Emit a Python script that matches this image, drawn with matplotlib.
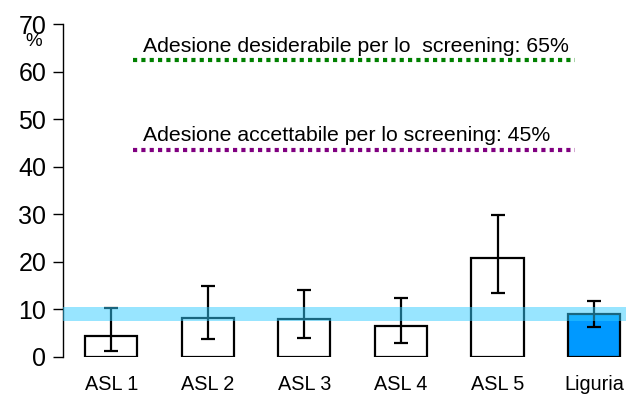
import matplotlib.pyplot as plt

plt.rcParams['font.family'] = ['Liberation Sans', 'DejaVu Sans']

# dati
categorie = ['ASL 1', 'ASL 2', 'ASL 3', 'ASL 4', 'ASL 5', 'Liguria']
valori = [4.5, 8.1, 7.9, 6.6, 20.9, 9.0]
ic_inf = [1.3, 3.7, 3.9, 2.9, 13.4, 6.4]
ic_sup = [10.4, 14.9, 14.1, 12.5, 29.8, 11.8]
banda = [7.6, 10.6]
soglia_desiderabile = 62.4
soglia_accettabile = 43.6
testo_desiderabile = 'Adesione desiderabile per lo  screening: 65%'
testo_accettabile = 'Adesione accettabile per lo screening: 45%'
colori = ['white'] * 5 + ['#0099FF']

fig = plt.figure(figsize=(6.26, 4.03), dpi=100)
ax = fig.add_axes([63 / 626, 46 / 403, (626 - 63) / 626, 333 / 403])

x = list(range(len(categorie)))
err = [[v - lo for v, lo in zip(valori, ic_inf)],
       [hi - v for v, hi in zip(valori, ic_sup)]]
ax.bar(x, valori, width=0.54, color=colori, edgecolor='black', linewidth=1.6, zorder=2)
ax.errorbar(x, valori, yerr=err, fmt='none', ecolor='black', elinewidth=1.6,
            capsize=5, capthick=1.6, zorder=3)

ax.axhspan(banda[0], banda[1], color='#33CCFF', alpha=0.5, lw=0, zorder=4)

ax.plot([0.22, 4.8], [soglia_desiderabile] * 2, color='#008000', lw=3,
        linestyle=(0, (1, 1)), zorder=2)
ax.plot([0.22, 4.8], [soglia_accettabile] * 2, color='#800080', lw=3,
        linestyle=(0, (1, 1)), zorder=2)
ax.text(0.33, soglia_desiderabile + 0.9, testo_desiderabile, fontsize=15.3,
        va='bottom', ha='left')
ax.text(0.33, soglia_accettabile + 0.9, testo_accettabile, fontsize=15.3,
        va='bottom', ha='left')

ax.set_xlim(-0.5, 5.33)
ax.set_ylim(0, 70)
ax.set_yticks(range(0, 71, 10))
ax.set_xticks(x)
ax.set_xticklabels(categorie, fontsize=14.3)
ax.tick_params(axis='x', length=0, pad=13)
ax.tick_params(axis='y', length=7, width=1, labelsize=18, pad=5)
for s in ['top', 'right', 'bottom']:
    ax.spines[s].set_visible(False)
ax.spines['left'].set_linewidth(1)

fig.text(25 / 626, 1 - 41 / 403, '%', fontsize=13.5, va='center', ha='left')

fig.savefig('out.png', dpi=100)
